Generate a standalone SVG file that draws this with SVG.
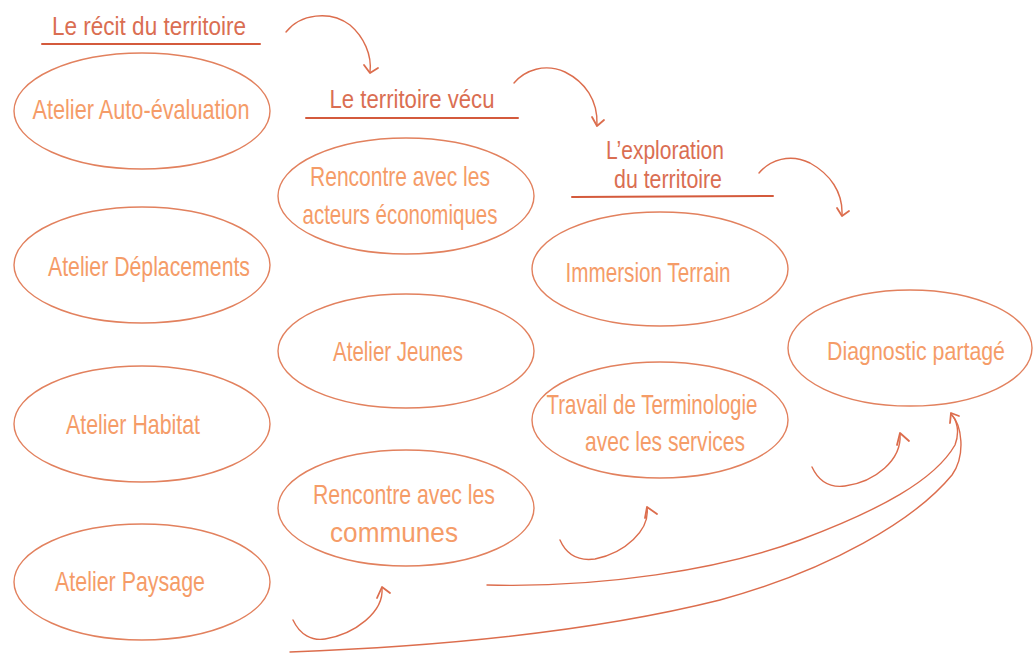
<svg xmlns="http://www.w3.org/2000/svg" width="1036" height="653" viewBox="0 0 1036 653">
<defs>
<style>
.bg{fill:#ffffff}
.node ellipse{fill:none;stroke:#e2815e;stroke-width:1.4}
.node text{font-family:"Liberation Sans",Arial,sans-serif;font-size:28px;fill:#f59c68;text-anchor:middle}
.node text.sm{font-size:25px}
.head text{font-family:"Liberation Sans",Arial,sans-serif;font-size:26px;fill:#da6e52;text-anchor:middle}
.head line{stroke:#d45a3c;stroke-width:2;stroke-linecap:round}
.conn path{fill:none;stroke:#dc6d4d;stroke-width:1.4;stroke-linecap:round;stroke-linejoin:round}
.conn .tip{stroke-width:1.8}
</style>
</defs>
<rect class="bg" x="0" y="0" width="1036" height="653"/>

<g id="head-recit" class="head">
<text x="149" y="35" textLength="194" lengthAdjust="spacingAndGlyphs">Le récit du territoire</text>
<line x1="42" y1="44" x2="260" y2="44"/>
</g>
<g id="head-vecu" class="head">
<text x="412" y="108" textLength="165" lengthAdjust="spacingAndGlyphs">Le territoire vécu</text>
<line x1="306" y1="118" x2="518" y2="118"/>
</g>
<g id="head-exploration" class="head">
<text x="665" y="159" textLength="118" lengthAdjust="spacingAndGlyphs">L’exploration</text>
<text x="668" y="188" textLength="108" lengthAdjust="spacingAndGlyphs">du territoire</text>
<line x1="572" y1="197" x2="773" y2="196"/>
</g>

<g id="n-auto" class="node">
<ellipse cx="142" cy="111" rx="128" ry="58"/>
<text x="141" y="119" textLength="217" lengthAdjust="spacingAndGlyphs">Atelier Auto-évaluation</text>
</g>
<g id="n-deplacements" class="node">
<ellipse cx="142" cy="265" rx="128" ry="58"/>
<text x="149" y="276" textLength="202" lengthAdjust="spacingAndGlyphs">Atelier Déplacements</text>
</g>
<g id="n-habitat" class="node">
<ellipse cx="142" cy="424" rx="128" ry="58"/>
<text x="133" y="434" textLength="134" lengthAdjust="spacingAndGlyphs">Atelier Habitat</text>
</g>
<g id="n-paysage" class="node">
<ellipse cx="142" cy="582" rx="128" ry="58"/>
<text x="130" y="591" textLength="150" lengthAdjust="spacingAndGlyphs">Atelier Paysage</text>
</g>

<g id="n-acteurs" class="node">
<ellipse cx="406" cy="196" rx="128" ry="58"/>
<text x="400" y="186" textLength="180" lengthAdjust="spacingAndGlyphs">Rencontre avec les</text>
<text x="400" y="224" textLength="195" lengthAdjust="spacingAndGlyphs">acteurs économiques</text>
</g>
<g id="n-jeunes" class="node">
<ellipse cx="406" cy="351" rx="128" ry="57"/>
<text x="398" y="361" textLength="130" lengthAdjust="spacingAndGlyphs">Atelier Jeunes</text>
</g>
<g id="n-communes" class="node">
<ellipse cx="406" cy="508" rx="128" ry="58"/>
<text x="404" y="504" textLength="182" lengthAdjust="spacingAndGlyphs">Rencontre avec les</text>
<text x="394" y="542" textLength="128" lengthAdjust="spacingAndGlyphs">communes</text>
</g>

<g id="n-immersion" class="node">
<ellipse cx="660" cy="269" rx="128" ry="57"/>
<text x="648" y="282" textLength="165" lengthAdjust="spacingAndGlyphs">Immersion Terrain</text>
</g>
<g id="n-terminologie" class="node">
<ellipse cx="660" cy="420" rx="128" ry="58"/>
<text x="652" y="414" textLength="211" lengthAdjust="spacingAndGlyphs">Travail de Terminologie</text>
<text x="665" y="451" textLength="160" lengthAdjust="spacingAndGlyphs">avec les services</text>
</g>

<g id="n-diagnostic" class="node">
<ellipse cx="910" cy="348" rx="122" ry="58"/>
<text class="sm" x="916" y="360" textLength="178" lengthAdjust="spacingAndGlyphs">Diagnostic partagé</text>
</g>

<g id="connectors" class="conn">
<path d="M286,32 C300,14 330,10 350,25 C364,37 372,55 370,72"/>
<path class="tip" d="M364,65 L370,73 L378,68"/>
<path d="M514,83 C525,70 545,63 565,72 C585,82 598,100 597,125"/>
<path class="tip" d="M592,117 L597,126 L604,120"/>
<path d="M759,173 C770,160 790,153 810,163 C830,174 843,192 842,215"/>
<path class="tip" d="M837,208 L842,216 L849,211"/>

<path d="M293,620 C300,635 312,641 325,639 C355,634 384,612 382,588"/>
<path class="tip" d="M377,598 L382,587 L390,593"/>
<path d="M560,540 C567,556 580,561 595,559 C625,553 650,530 647,508"/>
<path class="tip" d="M645,518 L647,507 L657,514"/>
<path d="M812,467 C819,482 830,488 845,486 C875,482 902,460 900,434"/>
<path class="tip" d="M897,445 L900,433 L909,441"/>

<path d="M487,585 C600,588 720,570 800,540 C880,510 935,480 955,445 C960,432 957,420 951,414"/>
<path d="M290,652 C450,646 600,630 720,600 C830,570 915,520 952,475 C966,455 962,425 951,414"/>
<path class="tip" d="M950,423 L951,413 L959,416"/>
</g>
</svg>
